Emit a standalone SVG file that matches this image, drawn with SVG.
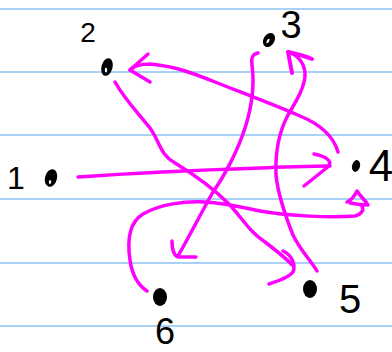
<svg xmlns="http://www.w3.org/2000/svg" width="392" height="352" viewBox="0 0 392 352">
<style>
.rule{stroke:#a9d0f5;stroke-width:2}
.edge{fill:none;stroke:#ff00ff;stroke-width:3.5;stroke-linecap:round;stroke-linejoin:round}
.dot{fill:#000}
.hole{fill:#fff}
.lbl{font-family:"Liberation Sans",Arial,sans-serif;fill:#000;text-anchor:middle}
</style>
<rect width="392" height="352" fill="#fff"/>
<g id="paper">
<line class="rule" x1="0" y1="9" x2="392" y2="9"/>
<line class="rule" x1="0" y1="72" x2="392" y2="72"/>
<line class="rule" x1="0" y1="135" x2="392" y2="135"/>
<line class="rule" x1="0" y1="199" x2="392" y2="199"/>
<line class="rule" x1="0" y1="263" x2="392" y2="263"/>
<line class="rule" x1="0" y1="326" x2="392" y2="326"/>
</g>
<g id="connectors">
<g id="e1-4"><path class="edge" d="M78,177 C120,174 200,170 260,168 S315,166 330,166"/><path class="edge" d="M314,154 Q333,158 329,166 L304,186"/></g>
<g id="e4-2"><path class="edge" d="M338,152 C334,138 322,125 300,116 C270,103 240,92 215,82 C195,74 175,66 150,64 C140,64 133,67 130,70"/><path class="edge" d="M148,54 L130,70 L150,82"/></g>
<g id="e2-5"><path class="edge" d="M115,82 C125,100 140,115 150,128 C160,142 160,155 175,163 C195,175 215,190 230,205 C245,222 250,232 265,242 C278,252 288,260 292,265"/><path class="edge" d="M283,251 C292,255 296,265 293,272 C288,278 278,281 269,284"/></g>
<g id="e3-6"><path class="edge" d="M258,53 C252,54 251,58 252,65 C254,80 254,100 245,128 C238,150 225,175 213,192 C200,215 190,235 178,256"/><path class="edge" d="M172,241 Q172,256 179,257 L196,257"/></g>
<g id="e5-3"><path class="edge" d="M317,271 C312,262 300,250 293,235 C285,215 278,195 276,175 C275,150 280,130 288,115 C297,100 306,85 305,72 C303,60 295,54 288,52"/><path class="edge" d="M292,73 L288,52 C297,54 305,56 312,59" style="stroke-width:4"/></g>
<g id="e6-4"><path class="edge" d="M147,291 C138,285 132,275 130,260 C127,240 130,222 143,214 C160,204 185,201 205,202 C225,203 240,207 260,211 C290,216 330,218 355,216 C362,214 364,210 362,206"/><path class="edge" d="M347,202 C352,200 355,195 357,191 C360,196 365,200 368,205 C362,205 355,204 350,203"/></g>
</g>
<g id="node1"><ellipse class="dot" cx="51" cy="178" rx="6" ry="9" transform="rotate(15 51 178)"/><ellipse class="hole" cx="50" cy="182" rx="1.2" ry="2"/><text class="lbl" x="16" y="189" font-size="32">1</text></g>
<g id="node2"><ellipse class="dot" cx="107" cy="67" rx="5.5" ry="9" transform="rotate(15 107 67)"/><ellipse class="hole" cx="106" cy="70" rx="1.2" ry="2.5"/><text class="lbl" x="88" y="42" font-size="28">2</text></g>
<g id="node3"><ellipse class="dot" cx="269" cy="40" rx="5.5" ry="7.5" transform="rotate(30 269 40)"/><ellipse class="hole" cx="268" cy="41" rx="1.2" ry="2.5" transform="rotate(30 268 41)"/><text class="lbl" x="291" y="38" font-size="38">3</text></g>
<g id="node4"><ellipse class="dot" cx="356" cy="166" rx="4" ry="6" transform="rotate(15 356 166)"/><text class="lbl" x="381" y="181" font-size="44">4</text></g>
<g id="node5"><ellipse class="dot" cx="310" cy="289" rx="7" ry="9"/><text class="lbl" x="350" y="313" font-size="40">5</text></g>
<g id="node6"><ellipse class="dot" cx="160" cy="297" rx="7" ry="9"/><text class="lbl" x="165" y="344" font-size="36">6</text></g>
</svg>
